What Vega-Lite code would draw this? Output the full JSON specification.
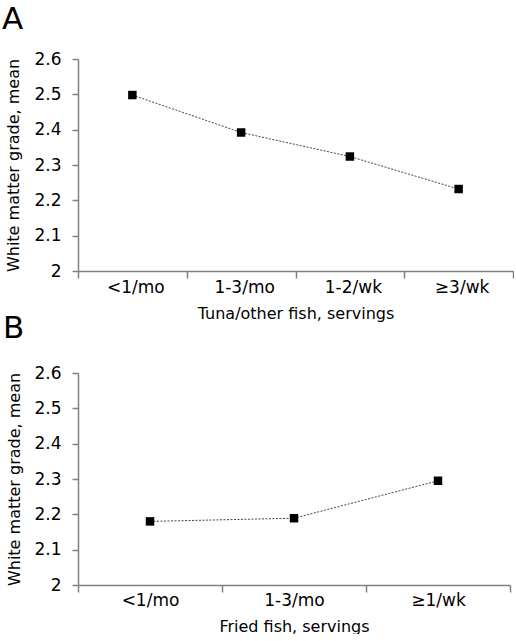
{
  "$schema": "https://vega.github.io/schema/vega-lite/v6.json",
  "padding": {"left": 1, "top": 4, "right": 0, "bottom": 0},
  "background": "white",
  "spacing": -8,
  "align": "none",
  "config": {
    "font": "DejaVu Sans",
    "view": {"stroke": null},
    "axis": {"grid": false, "domainColor": "#808080", "tickColor": "#808080", "labelColor": "black", "titleColor": "black", "labelFont": "DejaVu Sans", "titleFont": "DejaVu Sans", "labelFontSize": 17, "titleFontSize": 16, "titleFontWeight": "normal", "domainWidth": 1.5, "tickWidth": 1.5},
    "title": {"fontSize": 31, "fontWeight": "normal", "anchor": "start", "frame": "bounds", "font": "DejaVu Sans", "color": "black"}
  },
  "datasets": {
    "tuna": [
      {"servings": "<1/mo", "mean": 2.498},
      {"servings": "1-3/mo", "mean": 2.392},
      {"servings": "1-2/wk", "mean": 2.324},
      {"servings": "≥3/wk", "mean": 2.232}
    ],
    "fried": [
      {"servings": "<1/mo", "mean": 2.18},
      {"servings": "1-3/mo", "mean": 2.189},
      {"servings": "≥1/wk", "mean": 2.295}
    ]
  },
  "vconcat": [
    {
      "title": {"text": "A", "offset": 14, "dx": -4},
      "width": 435,
      "height": 212,
      "data": {"name": "tuna"},
      "encoding": {
        "x": {"field": "servings", "type": "ordinal", "scale": {"type": "band", "paddingInner": 0, "paddingOuter": 0, "domain": ["<1/mo", "1-3/mo", "1-2/wk", "≥3/wk"]}, "axis": {"title": "Tuna/other fish, servings", "labelAngle": 0, "tickBand": "extent", "tickSize": 7, "labelPadding": 1, "titlePadding": 10, "labelOffset": 3}},
        "y": {"field": "mean", "type": "quantitative", "scale": {"domain": [2, 2.6], "zero": false}, "axis": {"values": [2, 2.1, 2.2, 2.3, 2.4, 2.5, 2.6], "format": ".1~f", "title": "White matter grade, mean", "tickSize": 6, "labelPadding": 11, "titlePadding": 12}}
      },
      "layer": [
        {"mark": {"type": "line", "color": "#444444", "strokeDash": [2, 1.5], "strokeWidth": 1}},
        {"mark": {"type": "point", "shape": "square", "filled": true, "color": "black", "size": 72, "opacity": 1}},
        {
          "data": {"values": [{"label": "P trend=0.003"}]},
          "mark": {"type": "text", "fontSize": 16, "dx": 29, "align": "center", "baseline": "middle", "color": "black"},
          "encoding": {"x": {"datum": "1-2/wk", "type": "ordinal"}, "y": {"datum": 2.08, "type": "quantitative"}, "text": {"field": "label"}}
        }
      ]
    },
    {
      "title": {"text": "B", "offset": 19, "dx": -4},
      "width": 432,
      "height": 212,
      "data": {"name": "fried"},
      "encoding": {
        "x": {"field": "servings", "type": "ordinal", "scale": {"type": "band", "paddingInner": 0, "paddingOuter": 0, "domain": ["<1/mo", "1-3/mo", "≥1/wk"]}, "axis": {"title": "Fried fish, servings", "labelAngle": 0, "tickBand": "extent", "tickSize": 7, "labelPadding": 0, "titlePadding": 10}},
        "y": {"field": "mean", "type": "quantitative", "scale": {"domain": [2, 2.6], "zero": false}, "axis": {"values": [2, 2.1, 2.2, 2.3, 2.4, 2.5, 2.6], "format": ".1~f", "title": "White matter grade, mean", "tickSize": 6, "labelPadding": 11, "titlePadding": 11}}
      },
      "layer": [
        {"mark": {"type": "line", "color": "#444444", "strokeDash": [2, 1.5], "strokeWidth": 1}},
        {"mark": {"type": "point", "shape": "square", "filled": true, "color": "black", "size": 72, "opacity": 1}},
        {
          "data": {"values": [{"label": "P trend=0.28"}]},
          "mark": {"type": "text", "fontSize": 16, "dx": -51, "align": "center", "baseline": "middle", "color": "black"},
          "encoding": {"x": {"datum": "≥1/wk", "type": "ordinal"}, "y": {"datum": 2.088, "type": "quantitative"}, "text": {"field": "label"}}
        }
      ]
    }
  ]
}
